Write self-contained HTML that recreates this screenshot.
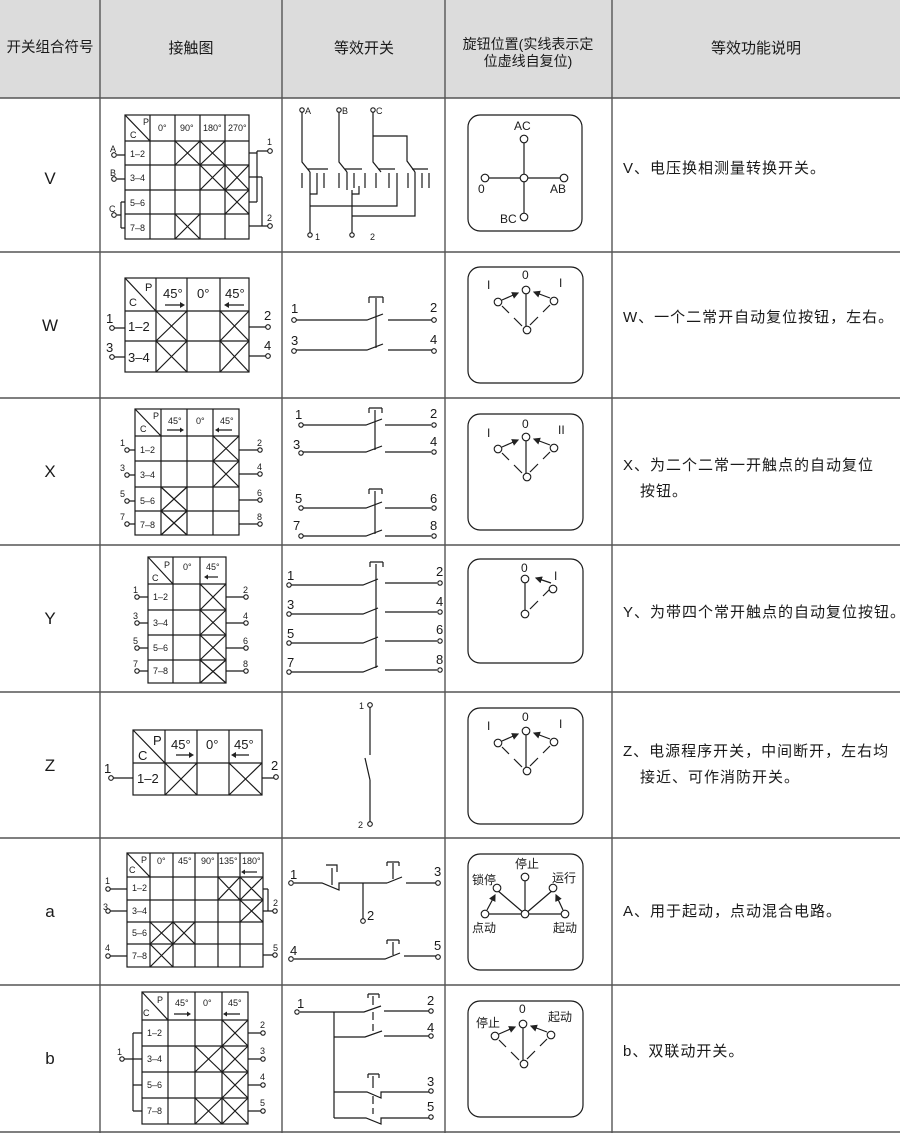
<!DOCTYPE html>
<html><head><meta charset="utf-8"><style>
html,body{margin:0;padding:0;background:#fff;}
svg{display:block;font-family:"Liberation Sans","Noto Sans CJK SC",sans-serif;}
.g{fill:none;stroke:#1a1a1a;stroke-width:1.2;}
.t{fill:#1a1a1a;}
circle{fill:#fff;stroke:#1a1a1a;stroke-width:1.1;}
</style></head><body>
<svg width="900" height="1133" viewBox="0 0 900 1133" xmlns="http://www.w3.org/2000/svg">
<defs>
<marker id="ar" markerWidth="6" markerHeight="6" refX="5" refY="3" orient="auto"><path d="M0,0 L6,3 L0,6 z" fill="#222"/></marker>
<g id="k3">
<path class="g" d="M57 23V63"/>
<path class="g" d="M33 39L40 46M45 51L53 59M81 38L74 45M69 50L61 58"/>
<path class="g" d="M33 33L49 26" marker-end="url(#ar)"/>
<path class="g" d="M81 31L65 25" marker-end="url(#ar)"/>
<circle cx="57" cy="23" r="3.8"/><circle cx="58" cy="63" r="3.8"/><circle cx="29" cy="35" r="3.8"/><circle cx="85" cy="34" r="3.8"/>
</g>
</defs>
<rect x="0" y="0" width="900" height="98" fill="#dcdcdc"/>
<g stroke="#555" stroke-width="1.4">
<line x1="0" y1="98" x2="900" y2="98"/>
<line x1="0" y1="252" x2="900" y2="252"/>
<line x1="0" y1="398" x2="900" y2="398"/>
<line x1="0" y1="545" x2="900" y2="545"/>
<line x1="0" y1="692" x2="900" y2="692"/>
<line x1="0" y1="838" x2="900" y2="838"/>
<line x1="0" y1="985" x2="900" y2="985"/>
<line x1="0" y1="1132" x2="900" y2="1132"/>
<line x1="100" y1="0" x2="100" y2="1133"/>
<line x1="282" y1="0" x2="282" y2="1133"/>
<line x1="445" y1="0" x2="445" y2="1133"/>
<line x1="612" y1="0" x2="612" y2="1133"/>
</g>
<g class="t" font-size="15" text-anchor="middle">
<text x="50" y="52" font-size="14.5">开关组合符号</text>
<text x="191" y="53">接触图</text>
<text x="364" y="53">等效开关</text>
<text x="528" y="49" font-size="14">旋钮位置(实线表示定</text>
<text x="528" y="66" font-size="14">位虚线自复位)</text>
<text x="756" y="53">等效功能说明</text>
</g>
<g class="t" font-size="17" text-anchor="middle">
<text x="50" y="184">V</text><text x="50" y="331">W</text><text x="50" y="477">X</text><text x="50" y="624">Y</text><text x="50" y="771">Z</text><text x="50" y="917">a</text><text x="50" y="1064">b</text>
</g>
<g class="t" font-size="15" letter-spacing="1">
<text x="623" y="173">V、电压换相测量转换开关。</text>
<text x="623" y="322">W、一个二常开自动复位按钮，左右。</text>
<text x="623" y="470">X、为二个二常一开触点的自动复位</text>
<text x="640" y="496">按钮。</text>
<text x="623" y="617">Y、为带四个常开触点的自动复位按钮。</text>
<text x="623" y="756">Z、电源程序开关，中间断开，左右均</text>
<text x="640" y="782">接近、可作消防开关。</text>
<text x="623" y="916">A、用于起动，点动混合电路。</text>
<text x="623" y="1056">b、双联动开关。</text>
</g>

<g class="g" stroke-width="1.4">
<rect x="468" y="115" width="114" height="116" rx="12"/>
<rect x="468" y="267" width="115" height="116" rx="12"/>
<rect x="468" y="414" width="115" height="116" rx="12"/>
<rect x="468" y="559" width="115" height="104" rx="12"/>
<rect x="468" y="708" width="115" height="116" rx="12"/>
<rect x="468" y="854" width="115" height="116" rx="12"/>
<rect x="468" y="1001" width="115" height="116" rx="12"/>
</g>
<path class="g" d="M524 139V217M485 178H564"/>
<circle cx="524" cy="139" r="3.8"/><circle cx="524" cy="217" r="3.8"/><circle cx="485" cy="178" r="3.8"/><circle cx="564" cy="178" r="3.8"/><circle cx="524" cy="178" r="3.8"/>
<g class="t" font-size="12"><text x="514" y="130">AC</text><text x="478" y="193">0</text><text x="550" y="193">AB</text><text x="500" y="223">BC</text></g>
<use href="#k3" x="469" y="267"/>
<g class="t" font-size="12"><text x="487" y="289">I</text><text x="522" y="279">0</text><text x="559" y="287">I</text></g>
<use href="#k3" x="469" y="414"/>
<g class="t" font-size="12"><text x="487" y="437">I</text><text x="522" y="428">0</text><text x="558" y="434">II</text></g>
<path class="g" d="M525 579V614M550 589L543 596M538 601L530 609"/>
<path class="g" d="M551 583L536 578" marker-end="url(#ar)"/>
<circle cx="525" cy="579" r="3.8"/><circle cx="525" cy="614" r="3.8"/><circle cx="553" cy="589" r="3.8"/>
<g class="t" font-size="12"><text x="521" y="572">0</text><text x="554" y="580">I</text></g>
<use href="#k3" x="469" y="708"/>
<g class="t" font-size="12"><text x="487" y="730">I</text><text x="522" y="721">0</text><text x="559" y="728">I</text></g>
<path class="g" d="M485 914H565M525 914V877M525 914L497 890M525 914L553 890"/>
<path class="g" d="M487 910L495 895" marker-end="url(#ar)"/>
<path class="g" d="M563 910L556 895" marker-end="url(#ar)"/>
<circle cx="525" cy="877" r="3.8"/><circle cx="497" cy="888" r="3.8"/><circle cx="553" cy="888" r="3.8"/><circle cx="485" cy="914" r="3.8"/><circle cx="525" cy="914" r="3.8"/><circle cx="565" cy="914" r="3.8"/>
<g class="t" font-size="12"><text x="515" y="868">停止</text><text x="472" y="884">锁停</text><text x="552" y="882">运行</text><text x="472" y="932">点动</text><text x="553" y="932">起动</text></g>
<use href="#k3" x="466" y="1001"/>
<g class="t" font-size="12"><text x="519" y="1013">0</text><text x="476" y="1027">停止</text><text x="548" y="1021">起动</text></g>

<g class="g">
<rect x="125" y="115" width="124" height="124"/>
<path d="M150 115V239M175 115V239M200 115V239M225 115V239M125 141H249M125 165H249M125 190H249M125 214H249M125 115L150 141"/>
<path d="M175 141L200 165M200 141L175 165M200 141L225 165M225 141L200 165M200 165L225 190M225 165L200 190M225 165L249 190M249 165L225 190M225 190L249 214M249 190L225 214M175 214L200 239M200 214L175 239"/>
<path d="M117 155H125M117 179H125M121 202V228M121 202H125M121 228H125M117 215H121"/>
<path d="M249 153H257M249 202H257M257 151V202M257 151H268M249 177H262M249 226H268M262 177V226"/>
</g>
<circle cx="114" cy="155" r="2.3"/><circle cx="114" cy="179" r="2.3"/><circle cx="114" cy="215" r="2.3"/><circle cx="270" cy="151" r="2.3"/><circle cx="270" cy="226" r="2.3"/>
<g class="t" font-size="9"><text x="143" y="125">P</text><text x="130" y="138">C</text><text x="158" y="131">0°</text><text x="180" y="131">90°</text><text x="203" y="131">180°</text><text x="228" y="131">270°</text>
<text x="130" y="157">1–2</text><text x="130" y="181">3–4</text><text x="130" y="206">5–6</text><text x="130" y="231">7–8</text>
<text x="110" y="152">A</text><text x="110" y="176">B</text><text x="109" y="212">C</text><text x="267" y="145">1</text><text x="267" y="221">2</text></g>

<g class="g">
<rect x="125" y="278" width="124" height="94"/>
<path d="M156 278V372M187 278V372M220 278V372M125 311H249M125 341H249M125 278L156 311"/>
<path d="M156 311L187 341M187 311L156 341M156 341L187 372M187 341L156 372M220 311L249 341M249 311L220 341M220 341L249 372M249 341L220 372"/>
<path d="M114 328H125M114 357H125M249 327H266M249 356H266"/>
<path d="M165 305H180M229 305H244"/>
</g>
<path d="M180 302L185 305L180 308z M229 302L224 305L229 308z" fill="#222"/>
<circle cx="112" cy="328" r="2.3"/><circle cx="112" cy="357" r="2.3"/><circle cx="268" cy="327" r="2.3"/><circle cx="268" cy="356" r="2.3"/>
<g class="t" font-size="13"><text x="145" y="291" font-size="11">P</text><text x="129" y="306" font-size="11">C</text><text x="163" y="298">45°</text><text x="197" y="298">0°</text><text x="225" y="298">45°</text>
<text x="128" y="331">1–2</text><text x="128" y="362">3–4</text><text x="106" y="323">1</text><text x="106" y="352">3</text><text x="264" y="320">2</text><text x="264" y="350">4</text></g>

<g class="g">
<rect x="135" y="409" width="104" height="126"/>
<path d="M161 409V535M187 409V535M213 409V535M135 436H239M135 461H239M135 487H239M135 511H239M135 409L161 436"/>
<path d="M213 436L239 461M239 436L213 461M213 461L239 487M239 461L213 487M161 487L187 511M187 487L161 511M161 511L187 535M187 511L161 535"/>
<path d="M129 450H135M129 475H135M129 501H135M129 524H135M239 450H258M239 474H258M239 500H258M239 524H258"/>
<path d="M167 430H180M219 430H232"/>
</g>
<path d="M180 427.5L184 430L180 432.5z M219 427.5L215 430L219 432.5z" fill="#222"/>
<circle cx="127" cy="450" r="2.2"/><circle cx="127" cy="475" r="2.2"/><circle cx="127" cy="501" r="2.2"/><circle cx="127" cy="524" r="2.2"/><circle cx="260" cy="450" r="2.2"/><circle cx="260" cy="474" r="2.2"/><circle cx="260" cy="500" r="2.2"/><circle cx="260" cy="524" r="2.2"/>
<g class="t" font-size="9"><text x="153" y="419">P</text><text x="140" y="432">C</text><text x="168" y="424">45°</text><text x="196" y="424">0°</text><text x="220" y="424">45°</text>
<text x="140" y="453">1–2</text><text x="140" y="478">3–4</text><text x="140" y="504">5–6</text><text x="140" y="528">7–8</text>
<text x="120" y="446">1</text><text x="120" y="471">3</text><text x="120" y="497">5</text><text x="120" y="520">7</text><text x="257" y="446">2</text><text x="257" y="470">4</text><text x="257" y="496">6</text><text x="257" y="520">8</text></g>

<g class="g">
<rect x="148" y="557" width="78" height="126"/>
<path d="M173 557V683M200 557V683M148 584H226M148 610H226M148 635H226M148 660H226M148 557L173 584"/>
<path d="M200 584L226 610M226 584L200 610M200 610L226 635M226 610L200 635M200 635L226 660M226 635L200 660M200 660L226 683M226 660L200 683"/>
<path d="M139 597H148M139 623H148M139 648H148M139 671H148M226 597H244M226 623H244M226 648H244M226 671H244"/>
<path d="M208 577H218"/>
</g>
<path d="M208 574.5L204 577L208 579.5z" fill="#222"/>
<circle cx="137" cy="597" r="2.2"/><circle cx="137" cy="623" r="2.2"/><circle cx="137" cy="648" r="2.2"/><circle cx="137" cy="671" r="2.2"/><circle cx="246" cy="597" r="2.2"/><circle cx="246" cy="623" r="2.2"/><circle cx="246" cy="648" r="2.2"/><circle cx="246" cy="671" r="2.2"/>
<g class="t" font-size="9"><text x="164" y="568">P</text><text x="152" y="581">C</text><text x="183" y="570">0°</text><text x="206" y="570">45°</text>
<text x="153" y="600">1–2</text><text x="153" y="626">3–4</text><text x="153" y="651">5–6</text><text x="153" y="674">7–8</text>
<text x="133" y="593">1</text><text x="133" y="619">3</text><text x="133" y="644">5</text><text x="133" y="667">7</text><text x="243" y="593">2</text><text x="243" y="619">4</text><text x="243" y="644">6</text><text x="243" y="667">8</text></g>

<g class="g">
<rect x="133" y="730" width="129" height="65"/>
<path d="M165 730V795M197 730V795M229 730V795M133 763H262M133 730L165 763"/>
<path d="M165 763L197 795M197 763L165 795M229 763L262 795M262 763L229 795"/>
<path d="M113 778H133M262 778H274M176 755H189M236 755H249"/>
</g>
<path d="M189 752L194 755L189 758z M236 752L231 755L236 758z" fill="#222"/>
<circle cx="111" cy="778" r="2.3"/><circle cx="276" cy="777" r="2.3"/>
<g class="t" font-size="13"><text x="153" y="745">P</text><text x="138" y="760">C</text><text x="171" y="749">45°</text><text x="206" y="749">0°</text><text x="234" y="749">45°</text>
<text x="137" y="783">1–2</text><text x="104" y="773">1</text><text x="271" y="770">2</text></g>

<g class="g">
<rect x="127" y="853" width="136" height="114"/>
<path d="M150 853V967M173 853V967M195 853V967M218 853V967M240 853V967M127 877H263M127 900H263M127 922H263M127 944H263M127 853L150 877"/>
<path d="M218 877L240 900M240 877L218 900M240 877L263 900M263 877L240 900M240 900L263 922M263 900L240 922M150 922L173 944M173 922L150 944M173 922L195 944M195 922L173 944M150 944L173 967M173 944L150 967"/>
<path d="M110 889H127M110 911H127M110 956H127M263 889H268M263 911H273M268 889V911M263 955H273"/>
<path d="M245 872H257"/>
</g>
<path d="M245 869.5L241 872L245 874.5z" fill="#222"/>
<circle cx="108" cy="889" r="2.2"/><circle cx="108" cy="911" r="2.2"/><circle cx="108" cy="956" r="2.2"/><circle cx="275" cy="911" r="2.2"/><circle cx="275" cy="955" r="2.2"/>
<g class="t" font-size="9"><text x="141" y="863">P</text><text x="129" y="873">C</text><text x="157" y="864">0°</text><text x="178" y="864">45°</text><text x="201" y="864">90°</text><text x="219" y="864">135°</text><text x="242" y="864">180°</text>
<text x="132" y="891">1–2</text><text x="132" y="914">3–4</text><text x="132" y="936">5–6</text><text x="132" y="959">7–8</text>
<text x="105" y="884">1</text><text x="103" y="910">3</text><text x="105" y="951">4</text><text x="273" y="906">2</text><text x="273" y="951">5</text></g>

<g class="g">
<rect x="142" y="992" width="106" height="132"/>
<path d="M168 992V1124M195 992V1124M222 992V1124M142 1020H248M142 1046H248M142 1072H248M142 1098H248M142 992L168 1020"/>
<path d="M222 1020L248 1046M248 1020L222 1046M195 1046L222 1072M222 1046L195 1072M222 1046L248 1072M248 1046L222 1072M222 1072L248 1098M248 1072L222 1098M195 1098L222 1124M222 1098L195 1124M222 1098L248 1124M248 1098L222 1124"/>
<path d="M133 1033V1111M133 1033H142M133 1059H142M133 1085H142M133 1111H142M124 1059H133M248 1033H261M248 1059H261M248 1085H261M248 1111H261"/>
<path d="M174 1014H187M227 1014H240"/>
</g>
<path d="M187 1011.5L191 1014L187 1016.5z M227 1011.5L223 1014L227 1016.5z" fill="#222"/>
<circle cx="122" cy="1059" r="2.2"/><circle cx="263" cy="1033" r="2.2"/><circle cx="263" cy="1059" r="2.2"/><circle cx="263" cy="1085" r="2.2"/><circle cx="263" cy="1111" r="2.2"/>
<g class="t" font-size="9"><text x="157" y="1003">P</text><text x="143" y="1016">C</text><text x="175" y="1006">45°</text><text x="203" y="1006">0°</text><text x="228" y="1006">45°</text>
<text x="147" y="1036">1–2</text><text x="147" y="1062">3–4</text><text x="147" y="1088">5–6</text><text x="147" y="1114">7–8</text>
<text x="117" y="1055">1</text><text x="260" y="1028">2</text><text x="260" y="1054">3</text><text x="260" y="1080">4</text><text x="260" y="1106">5</text></g>

<g class="g">
<path d="M302 112V162L310 172M339 112V162L347 172M373 112V162L381 172M373 136H407V161L415 172"/>
<path d="M308 169H328M345 169H362M378 169H395M412 169H428"/>
<path d="M302 173V188M317 173V188M324 173V188M339 173V188M354 173V188M365 173V188M376 173V188M389 173V188M397 173V188M408 173V188M422 173V188M429 173V188"/>
<path d="M310 172V233M310 194H317V188M310 206H397V188M347 172V190M352 190V233M352 194H359V186M352 216H415V172"/>
<path d="M296 320H367L383 314M388 320H432M296 350H367L383 344M388 350H432M376 298V348M369 297H383M369 297V303M383 297V303"/>
<path d="M303 425H366L382 419M385 425H431M303 452H366L382 446M385 452H431M375 410V450M369 408H382M369 408V413M382 408V413"/>
<path d="M303 508H366L382 502M385 508H431M303 536H366L382 530M385 536H431M375 491V534M369 489H382M369 489V494M382 489V494"/>
<path d="M291 585H363L378 579M385 583H437M291 614H363L378 608M385 612H437M291 643H363L378 637M385 641H437M291 672H363L378 666M385 670H437M376 564V668M370 562H383M370 562V567M383 562V567"/>
<path d="M370 707V755M370 780L365 758M370 780V822"/>
<path d="M294 883H322L339 890V883H387M332 868V885M326 865H332M332 865H337V872M363 883V919M387 883L402 877M406 883H436M393 863V879M387 862H399M387 862V866M399 862V866"/>
<path d="M294 959H385L400 953M404 956H436M393 942V955M387 940H399M387 940V944M399 940V944"/>
<path d="M300 1012H364L381 1006M384 1011H429M334 1012V1118M334 1037H365L382 1031M384 1036H429M334 1092H367L381 1098V1092H429M334 1118H366L381 1124V1118H429"/>
<path d="M373 996V1005M373 1012V1020M373 1024V1031M368 994H379M368 994V998M379 994V998"/>
<path d="M373 1076V1088M373 1096V1104M373 1108V1114M368 1074H379M368 1074V1078M379 1074V1078"/>
</g>
<g>
<circle cx="302" cy="110" r="2.2"/><circle cx="339" cy="110" r="2.2"/><circle cx="373" cy="110" r="2.2"/><circle cx="310" cy="235" r="2.2"/><circle cx="352" cy="235" r="2.2"/>
<circle cx="294" cy="320" r="2.3"/><circle cx="294" cy="351" r="2.3"/><circle cx="434" cy="320" r="2.3"/><circle cx="434" cy="351" r="2.3"/>
<circle cx="301" cy="425" r="2.2"/><circle cx="301" cy="453" r="2.2"/><circle cx="434" cy="425" r="2.2"/><circle cx="434" cy="452" r="2.2"/>
<circle cx="301" cy="508" r="2.2"/><circle cx="301" cy="536" r="2.2"/><circle cx="434" cy="508" r="2.2"/><circle cx="434" cy="536" r="2.2"/>
<circle cx="289" cy="585" r="2.2"/><circle cx="289" cy="614" r="2.2"/><circle cx="289" cy="643" r="2.2"/><circle cx="289" cy="672" r="2.2"/>
<circle cx="440" cy="583" r="2.2"/><circle cx="440" cy="612" r="2.2"/><circle cx="440" cy="641" r="2.2"/><circle cx="440" cy="670" r="2.2"/>
<circle cx="370" cy="705" r="2.3"/><circle cx="370" cy="824" r="2.3"/>
<circle cx="291" cy="883" r="2.3"/><circle cx="438" cy="883" r="2.3"/><circle cx="363" cy="921" r="2.3"/><circle cx="291" cy="959" r="2.3"/><circle cx="438" cy="957" r="2.3"/>
<circle cx="297" cy="1012" r="2.2"/><circle cx="431" cy="1011" r="2.2"/><circle cx="431" cy="1036" r="2.2"/><circle cx="431" cy="1091" r="2.2"/><circle cx="431" cy="1117" r="2.2"/>
</g>
<g class="t" font-size="9">
<text x="305" y="114">A</text><text x="342" y="114">B</text><text x="376" y="114">C</text><text x="315" y="240">1</text><text x="370" y="240">2</text>
<text x="359" y="709">1</text><text x="358" y="828">2</text>
</g>
<g class="t" font-size="13">
<text x="291" y="313">1</text><text x="430" y="312">2</text><text x="291" y="345">3</text><text x="430" y="344">4</text>
<text x="295" y="419">1</text><text x="430" y="418">2</text><text x="293" y="449">3</text><text x="430" y="446">4</text>
<text x="295" y="503">5</text><text x="430" y="503">6</text><text x="293" y="530">7</text><text x="430" y="530">8</text>
<text x="287" y="580">1</text><text x="436" y="576">2</text><text x="287" y="609">3</text><text x="436" y="606">4</text><text x="287" y="638">5</text><text x="436" y="634">6</text><text x="287" y="667">7</text><text x="436" y="664">8</text>
<text x="290" y="879">1</text><text x="434" y="876">3</text><text x="367" y="920">2</text><text x="290" y="955">4</text><text x="434" y="950">5</text>
<text x="297" y="1008">1</text><text x="427" y="1005">2</text><text x="427" y="1032">4</text><text x="427" y="1086">3</text><text x="427" y="1111">5</text>
</g>
</svg>
</body></html>
